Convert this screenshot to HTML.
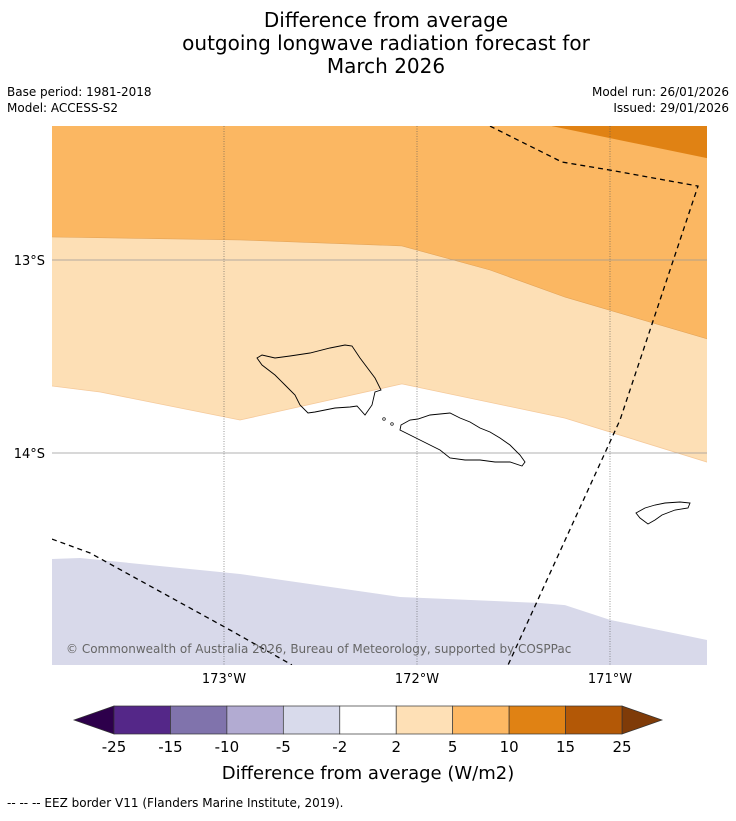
<!DOCTYPE html>
<html><head><meta charset="utf-8"><style>
body{margin:0;background:#fff;font-family:"Liberation Sans","DejaVu Sans",sans-serif;}
svg text{font-family:"DejaVu Sans","Liberation Sans",sans-serif;}
</style></head><body>
<svg id="c" width="736" height="816" xmlns="http://www.w3.org/2000/svg">
<g font-size="20" text-anchor="middle" fill="#000">
<text x="386" y="27">Difference from average</text>
<text x="386" y="50">outgoing longwave radiation forecast for</text>
<text x="386" y="73">March 2026</text>
</g>
<g font-size="12" fill="#000">
<text x="7" y="96">Base period: 1981-2018</text>
<text x="7" y="112">Model: ACCESS-S2</text>
<text x="729" y="96" text-anchor="end">Model run: 26/01/2026</text>
<text x="729" y="112" text-anchor="end">Issued: 29/01/2026</text>
</g>
<defs><clipPath id="mc"><rect x="52" y="126" width="655" height="539"/></clipPath></defs>
<g id="map" clip-path="url(#mc)"></g>
<g id="axes"></g>
<g id="cbar"></g>
<text x="368" y="779" font-size="18" text-anchor="middle">Difference from average (W/m2)</text>
<text x="7" y="807" font-size="12">--  --  -- EEZ border V11 (Flanders Marine Institute, 2019).</text>
</svg>
<script>
const NS="http://www.w3.org/2000/svg";
const lonTicks=[-173,-172,-171];
const lonLabels=["173°W","172°W","171°W"];
const latTicks=[-13,-14];
const latLabels=["13°S","14°S"];
function X(lon){return 224+(lon+173)*193;}
function Y(lat){return 260+(-13-lat)*193;}
function P(p){return X(p[0]).toFixed(1)+","+Y(p[1]).toFixed(1);}
const LON0=-173.891,LON1=-170.497,LAT0=-12.306,LAT1=-15.098;
const b10=[[-171.301,-12.306],[-170.497,-12.472]];
const b5=[[-173.891,-12.881],[-172.917,-12.896],[-172.078,-12.927],[-171.622,-13.052],[-171.233,-13.192],[-170.497,-13.409]];
const b2=[[-173.891,-13.653],[-173.642,-13.684],[-172.917,-13.829],[-172.078,-13.642],[-171.233,-13.819],[-170.497,-14.047]];
const bm2=[[-173.891,-14.549],[-173.746,-14.544],[-172.917,-14.627],[-172.088,-14.746],[-171.363,-14.777],[-171.233,-14.788],[-171.0,-14.865],[-170.497,-14.969]];
const eez1=[[-171.622,-12.306],[-171.249,-12.492],[-171.0,-12.534],[-170.544,-12.617],[-170.948,-13.829],[-171.528,-15.098]];
const eez2=[[-173.891,-14.446],[-173.694,-14.518],[-173.487,-14.632],[-172.969,-14.917],[-172.648,-15.098]];
const mapG=document.getElementById('map');
function poly(pts,fill,name){const e=document.createElementNS(NS,'polygon');e.setAttribute('points',pts.map(P).join(' '));e.setAttribute('fill',fill);


mapG.appendChild(e);}
function line(pts,st,name){const e=document.createElementNS(NS,'polyline');e.setAttribute('points',pts.map(P).join(' '));e.setAttribute('fill','none');
for(const k in st)e.setAttribute(k,st[k]);


mapG.appendChild(e);}
const topLat=LAT0+1,botLat=LAT1-1;
poly([[LON0,topLat],[LON1,topLat],[LON1,botLat],[LON0,botLat]],'#ffffff','region-white');
poly([[LON0,topLat],[LON1,topLat]].concat(b2.slice().reverse()),'#fddfb5','region-2-5');
poly([[LON0,topLat],[LON1,topLat]].concat(b5.slice().reverse()),'#fbb762','region-5-10');
poly([[b10[0][0],topLat],[LON1+0.1,topLat],[LON1+0.1,b10[1][1]]].concat(b10.slice().reverse()),'#e08214','region-10-15');
poly(bm2.concat([[LON1,botLat],[LON0,botLat]]),'#d8d9ea','region-minus2-minus5');
line(b2,{stroke:'#f5c99a','stroke-width':0.8},'contour-2');
line(b5,{stroke:'#e4a458','stroke-width':0.6},'contour-5');
lonTicks.forEach((v,i)=>{const l=document.createElementNS(NS,'line');l.setAttribute('x1',X(v));l.setAttribute('x2',X(v));l.setAttribute('y1',126);l.setAttribute('y2',665);l.setAttribute('stroke','#555');l.setAttribute('stroke-width',0.6);l.setAttribute('stroke-dasharray','1,1.5');


mapG.appendChild(l);});
latTicks.forEach(v=>{const l=document.createElementNS(NS,'line');l.setAttribute('x1',52);l.setAttribute('x2',707);l.setAttribute('y1',Y(v));l.setAttribute('y2',Y(v));l.setAttribute('stroke','#999');l.setAttribute('stroke-width',0.7);


mapG.appendChild(l);});
const isl=[
"257,358 262,355 275,358 290,356 310,353 330,348 345,345 352,346 360,358 375,378 381,390 375,392 372,405 365,415 357,406 350,407 335,408 315,412 308,413 300,405 295,395 285,385 275,375 262,365",
"401,425 410,420 418,419 430,415 450,413 460,418 470,422 480,428 490,432 500,438 510,445 520,455 525,462 522,466 510,462 495,462 480,460 465,460 450,458 440,450 430,445 420,440 410,435 400,430",
"636,513 645,508 655,505 665,503 680,502 690,503 688,508 675,510 662,515 655,520 648,524 640,518"];
const islNames=['island-savaii','island-upolu','island-tutuila'];
isl.forEach((s,i)=>{const e=document.createElementNS(NS,'polygon');e.setAttribute('points',s);e.setAttribute('fill','none');e.setAttribute('stroke','#000');e.setAttribute('stroke-width',0.9);


mapG.appendChild(e);});
[[384,419],[392,424]].forEach(p=>{const e=document.createElementNS(NS,'circle');e.setAttribute('cx',p[0]);e.setAttribute('cy',p[1]);e.setAttribute('r',1.3);e.setAttribute('fill','none');e.setAttribute('stroke','#000');e.setAttribute('stroke-width',0.7);


mapG.appendChild(e);});
line(eez1,{stroke:'#000','stroke-width':1.3,'stroke-dasharray':'5,4'},'eez-border-east');
line(eez2,{stroke:'#000','stroke-width':1.3,'stroke-dasharray':'5,4'},'eez-border-west');
const cp=document.createElementNS(NS,'text');cp.setAttribute('x',66);cp.setAttribute('y',653);cp.setAttribute('font-size',12);cp.setAttribute('fill','#666');cp.textContent='© Commonwealth of Australia 2026, Bureau of Meteorology, supported by COSPPac';


mapG.appendChild(cp);
const ax=document.getElementById('axes');
lonTicks.forEach((v,i)=>{const t=document.createElementNS(NS,'text');t.setAttribute('x',X(v));t.setAttribute('y',683);t.setAttribute('font-size',13);t.setAttribute('text-anchor','middle');t.textContent=lonLabels[i];


ax.appendChild(t);});
latTicks.forEach((v,i)=>{const t=document.createElementNS(NS,'text');t.setAttribute('x',45);t.setAttribute('y',Y(v)+5);t.setAttribute('font-size',13);t.setAttribute('text-anchor','end');t.textContent=latLabels[i];


ax.appendChild(t);});
const cbLevels=["-25","-15","-10","-5","-2","2","5","10","15","25"];
const cbColors=["#542788","#8073ac","#b2abd2","#d8daeb","#ffffff","#fee0b6","#fdb863","#e08214","#b35806"];
const cb=document.getElementById('cbar');
const cx0=114,cx1=622,cy0=706,cy1=734,w=(cx1-cx0)/cbColors.length;
function addPoly(pts,fill,name){const e=document.createElementNS(NS,'polygon');e.setAttribute('points',pts);e.setAttribute('fill',fill);e.setAttribute('stroke','#333');e.setAttribute('stroke-width',0.7);


cb.appendChild(e);}
addPoly(`${cx0},${cy0} 74,${(cy0+cy1)/2} ${cx0},${cy1}`,'#2d004b','colorbar-extend-low');
addPoly(`${cx1},${cy0} 662,${(cy0+cy1)/2} ${cx1},${cy1}`,'#7f3b08','colorbar-extend-high');
cbColors.forEach((c,i)=>{const r=document.createElementNS(NS,'rect');r.setAttribute('x',cx0+i*w);r.setAttribute('y',cy0);r.setAttribute('width',w);r.setAttribute('height',cy1-cy0);r.setAttribute('fill',c);r.setAttribute('stroke','#333');r.setAttribute('stroke-width',0.7);


cb.appendChild(r);});
cbLevels.forEach((l,i)=>{const t=document.createElementNS(NS,'text');t.setAttribute('x',cx0+i*w);t.setAttribute('y',752);t.setAttribute('font-size',15);t.setAttribute('text-anchor','middle');t.textContent=l;


cb.appendChild(t);});
</script>
</body></html>
